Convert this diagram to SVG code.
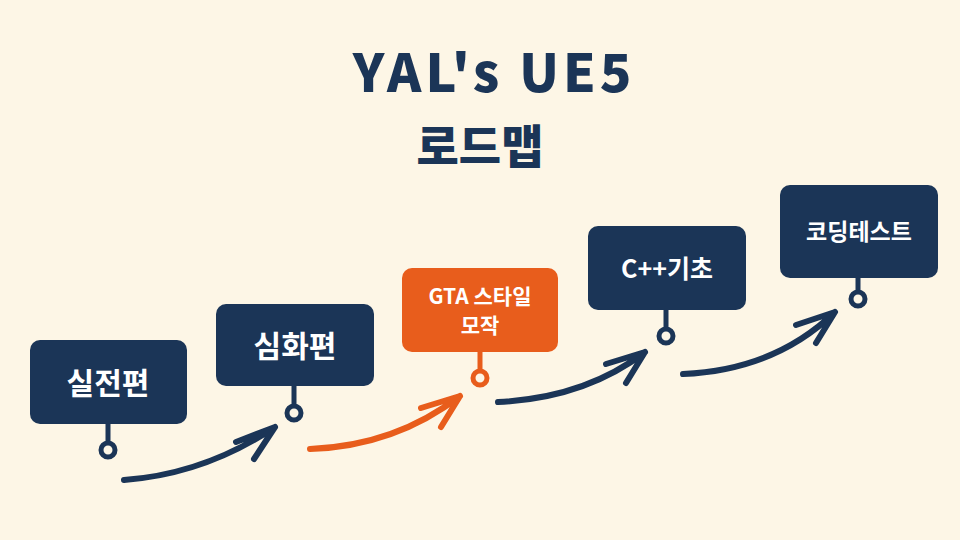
<svg xmlns="http://www.w3.org/2000/svg" width="960" height="540" viewBox="0 0 960 540">
<style>
.box{fill:#1b3557}
.org{fill:#e85d1c}
.t{font-family:"Noto Sans CJK KR","Noto Sans",sans-serif;font-weight:700;fill:#fff;text-anchor:middle}
.stem{stroke:#1b3557;stroke-width:5;fill:none}
.pin{stroke:#1b3557;stroke-width:5;fill:#fdf6e6}
.arr{stroke:#1b3557;stroke-width:6;fill:none;stroke-linecap:round;stroke-linejoin:round}
</style>
<rect width="960" height="540" fill="#fdf6e6"/>
<text x="494" y="92" font-family="'Noto Sans CJK KR','Noto Sans',sans-serif" font-weight="900" font-size="52" letter-spacing="4" fill="#1b3557" text-anchor="middle">YAL's UE5</text>
<text x="480" y="163" font-family="'Noto Sans CJK KR','Noto Sans',sans-serif" font-weight="900" font-size="46" fill="#1b3557" text-anchor="middle">로드맵</text>
<g id="n1"><rect class="box" x="30" y="340" width="157" height="84" rx="10"/><text class="t" x="108" y="394" font-size="30">실전편</text><line class="stem" x1="108" y1="424" x2="108" y2="443"/><circle class="pin" cx="108" cy="450" r="7"/></g>
<g id="n2"><rect class="box" x="216" y="304" width="158" height="82" rx="10"/><text class="t" x="295" y="357" font-size="30">심화편</text><line class="stem" x1="294" y1="386" x2="294" y2="406"/><circle class="pin" cx="294" cy="413" r="7"/></g>
<g id="n3"><rect class="org" x="402" y="268" width="156" height="84" rx="10"/><text class="t" x="480" y="304" font-size="21">GTA 스타일</text><text class="t" x="480" y="333" font-size="21">모작</text><line class="stem" style="stroke:#e85d1c" x1="480" y1="352" x2="480" y2="371"/><circle class="pin" style="stroke:#e85d1c" cx="480" cy="378" r="7"/></g>
<g id="n4"><rect class="box" x="588" y="226" width="158" height="84" rx="10"/><text class="t" x="667" y="278" font-size="25">C++기초</text><line class="stem" x1="666" y1="310" x2="666" y2="329"/><circle class="pin" cx="666" cy="336" r="7"/></g>
<g id="n5"><rect class="box" x="780" y="185" width="158" height="93" rx="10"/><text class="t" x="859" y="240" font-size="23">코딩테스트</text><line class="stem" x1="858" y1="278" x2="858" y2="292"/><circle class="pin" cx="858" cy="299" r="7"/></g>
<g id="connectors">
<path class="arr" d="M124,480 Q205,474 275,427 M236,442 L275,427 L254,459"/>
<path class="arr" style="stroke:#e85d1c" d="M310,449 Q395,446 460,396 M421,408 L460,396 L441,427"/>
<path class="arr" d="M498,402 Q585,398 645,352 M606,364 L645,352 L626,383"/>
<path class="arr" d="M683,374 Q775,370 835,312 M796,325 L835,312 L816,343"/>
</g>
</svg>
